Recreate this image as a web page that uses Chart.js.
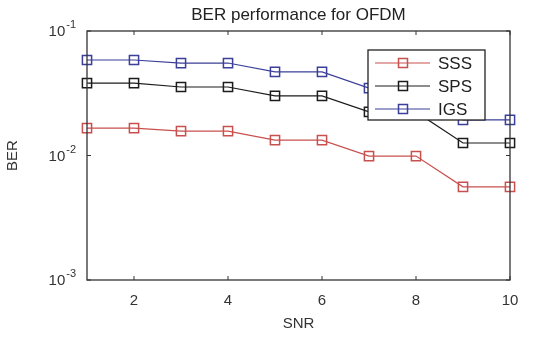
<!DOCTYPE html>
<html>
<head>
<meta charset="utf-8">
<script src="https://cdn.jsdelivr.net/npm/chart.js@4.4.1/dist/chart.umd.min.js"></script>
<style>
  body { margin: 0; background: #fff; }
  #wrap { width: 545px; height: 337px; position: relative; }
</style>
</head>
<body>
<div id="wrap"><canvas id="berChart"></canvas></div>
<script>
// values
const snr = [1, 2, 3, 4, 5, 6, 7, 8, 9, 10];
const sss = [0.0166, 0.0166, 0.0157, 0.0157, 0.0133, 0.0133, 0.0099, 0.0099, 0.0056, 0.0056];
const sps = [0.0382, 0.0382, 0.0355, 0.0355, 0.0301, 0.0301, 0.0224, 0.0224, 0.0126, 0.0126];
const igs = [0.0585, 0.0585, 0.0553, 0.0553, 0.0469, 0.0469, 0.0348, 0.0348, 0.0193, 0.0193];
const seriesNames = ['SSS', 'SPS', 'IGS'];
const xTicks = [2, 4, 6, 8, 10];
const yTicks = [0.001, 0.01, 0.1];
const yTickExponents = ['-3', '-2', '-1'];

const FONT = "'Liberation Sans', Arial, sans-serif";
const colors = ['#c8504e', '#1c1c1c', '#3b3f98'];

function toPoints(vals) {
    return snr.map((x, i) => ({ x: x, y: vals[i] }));
}

// 枠線と内向きの目盛り、y軸の 10^n ラベル、それから凡例
const framePlugin = {
    id: 'frame',
    afterDraw(chart) {
        const { ctx, chartArea: a } = chart;
        const xs = chart.scales.x, ys = chart.scales.y;
        ctx.save();
        ctx.strokeStyle = '#333';
        ctx.lineWidth = 1.3;
        ctx.strokeRect(a.left, a.top, a.right - a.left, a.bottom - a.top);
        ctx.lineWidth = 1;
        ctx.beginPath();
        xTicks.forEach(v => {
            const px = xs.getPixelForValue(v);
            ctx.moveTo(px, a.bottom); ctx.lineTo(px, a.bottom - 4);
            ctx.moveTo(px, a.top); ctx.lineTo(px, a.top + 4);
        });
        yTicks.forEach(v => {
            const py = ys.getPixelForValue(v);
            ctx.moveTo(a.left, py); ctx.lineTo(a.left + 4, py);
            ctx.moveTo(a.right, py); ctx.lineTo(a.right - 4, py);
        });
        ctx.stroke();

        // y tick labels with superscript exponent
        ctx.fillStyle = '#333';
        ctx.textAlign = 'right';
        ctx.textBaseline = 'middle';
        yTicks.forEach((v, i) => {
            const py = ys.getPixelForValue(v);
            const right = a.left - 11;
            ctx.font = '11px ' + FONT;
            const ew = ctx.measureText(yTickExponents[i]).width;
            ctx.fillText(yTickExponents[i], right, py - 6);
            ctx.font = '15px ' + FONT;
            ctx.fillText('10', right - ew - 1, py + 1);
        });

        // legend box
        const x0 = a.right - 142, y0 = a.top + 19, w = 117, h = 70;
        ctx.fillStyle = '#fff';
        ctx.fillRect(x0, y0, w, h);
        ctx.strokeStyle = '#222';
        ctx.lineWidth = 1.3;
        ctx.strokeRect(x0, y0, w, h);
        chart.data.datasets.forEach((ds, i) => {
            const y = y0 + 13 + i * 23;
            ctx.strokeStyle = ds.borderColor;
            ctx.lineWidth = 1.2;
            ctx.beginPath();
            ctx.moveTo(x0 + 7, y); ctx.lineTo(x0 + 62, y);
            ctx.stroke();
            ctx.lineWidth = 1.5;
            ctx.strokeRect(x0 + 30.5, y - 4.5, 9, 9);
            ctx.fillStyle = '#222';
            ctx.font = '17px ' + FONT;
            ctx.textBaseline = 'middle';
            ctx.textAlign = 'left';
            ctx.fillText(ds.label, x0 + 70, y + 1);
        });
        ctx.restore();
    }
};

const datasets = [sss, sps, igs].map((vals, i) => ({
    label: seriesNames[i],
    data: toPoints(vals),
    borderColor: colors[i],
    pointBorderColor: colors[i],
    pointBackgroundColor: 'rgba(0,0,0,0)',
    borderWidth: 1.2,
    pointStyle: 'rect',
    pointRadius: 6.5,
    pointBorderWidth: 1.5,
    tension: 0,
    clip: false
}));

new Chart(document.getElementById('berChart'), {
    type: 'line',
    data: { datasets: datasets },
    plugins: [framePlugin],
    options: {
        responsive: true,
        maintainAspectRatio: false,
        animation: false,
        layout: { padding: { left: 0, right: 35, top: 0, bottom: 0 } },
        plugins: {
            legend: { display: false },
            tooltip: { enabled: false },
            title: {
                display: true,
                text: 'BER performance for OFDM',
                fullSize: false,
                color: '#222',
                font: { family: FONT, size: 17, weight: 'normal' },
                padding: { top: 5, bottom: 5.6 }
            }
        },
        scales: {
            x: {
                type: 'linear',
                min: 1,
                max: 10,
                afterBuildTicks: axis => { axis.ticks = xTicks.map(v => ({ value: v })); },
                afterFit: scale => { scale.height = 57; },
                grid: { display: false, drawTicks: false },
                border: { display: false },
                ticks: {
                    color: '#333',
                    padding: 12,
                    maxRotation: 0,
                    font: { family: FONT, size: 15 }
                },
                title: {
                    display: true,
                    text: 'SNR',
                    color: '#333',
                    font: { family: FONT, size: 15 },
                    padding: { top: 0, bottom: 4 }
                }
            },
            y: {
                type: 'logarithmic',
                min: 0.001,
                max: 0.1,
                afterBuildTicks: axis => { axis.ticks = yTicks.map(v => ({ value: v })); },
                afterFit: scale => { scale.width = 87; },
                grid: { display: false, drawTicks: false },
                border: { display: false },
                ticks: { display: false },
                title: {
                    display: true,
                    text: 'BER',
                    color: '#333',
                    font: { family: FONT, size: 15 },
                    padding: { top: 4, bottom: 0 }
                }
            }
        }
    }
});
</script>
</body>
</html>
